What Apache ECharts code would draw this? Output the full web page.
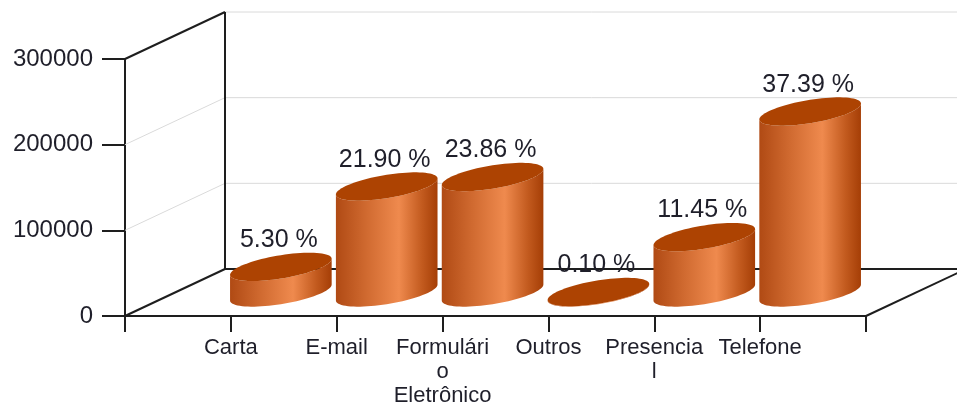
<!DOCTYPE html>
<html lang="pt">
<head>
  <meta charset="UTF-8" />
  <title>Atendimentos por canal</title>
  <script src="https://cdn.jsdelivr.net/npm/echarts@6/dist/echarts.min.js"></script>
  <style>
    body { margin: 0; background: #fff; }
    #chart { width: 957px; height: 405px; }
  </style>
</head>
<body>
  <div id="chart"></div>
  <script>
    // data
    const categories = ['Carta', 'E-mail', 'Formulário Eletrônico', 'Outros', 'Presencial', 'Telefone'];
    const tickLabels = ['Carta', 'E-mail', 'Formulári\no\nEletrônico', 'Outros', 'Presencia\nl', 'Telefone'];
    const counts = [29945, 123735, 134809, 565, 64692, 211254];
    const shares = [5.30, 21.90, 23.86, 0.10, 11.45, 37.39];
    const yTicks = [0, 100000, 200000, 300000];

    const DEPTH = [100, -47];   // oblique offset of the back wall
    const LINE = '#1e1e1e';
    const GRID = '#dadada';
    const TEXT = '#1f1f2a';

    const chart = echarts.init(document.getElementById('chart'));

    function seg(a, b, color, w) {
      return {
        type: 'line',
        shape: { x1: a[0], y1: a[1], x2: b[0], y2: b[1] },
        style: { stroke: color, lineWidth: w }
      };
    }
    const add = (p, f) => [p[0] + DEPTH[0] * f, p[1] + DEPTH[1] * f];

    function renderFrame(params, api) {
      const yMax = yTicks[yTicks.length - 1];
      const o0 = api.coord([0, 0]);
      const o1 = api.coord([categories.length + 1, 0]);
      const top = api.coord([0, yMax]);
      const kids = [];
      yTicks.forEach(v => {
        if (v === 0) return;
        const p = api.coord([0, v]);
        const b = add(p, 1);
        kids.push(seg(b, [o1[0] + DEPTH[0], b[1]], GRID, 1));
        if (v !== yMax) kids.push(seg(p, b, GRID, 1));
      });
      kids.push(seg(add(o0, 1), add(top, 1), LINE, 2));
      kids.push(seg(top, add(top, 1), LINE, 2));
      kids.push(seg(o0, add(o0, 1), LINE, 2));
      kids.push(seg(add(o0, 1), add(o1, 1), LINE, 2));
      kids.push(seg(o1, add(o1, 1), LINE, 2));
      return { type: 'group', children: kids };
    }

    function ellipsePts(cx, cy, rx, ry, sh, t0, t1, n) {
      const pts = [];
      for (let i = 0; i <= n; i++) {
        const t = t0 + (t1 - t0) * i / n;
        pts.push([cx + rx * Math.cos(t), cy - ry * Math.sin(t) - sh * Math.cos(t)]);
      }
      return pts;
    }

    function renderCylinder(params, api) {
      const x = api.value(0), v = api.value(1);
      const base = api.coord([x, 0]);
      const tip = api.coord([x, v]);
      const band = api.size([1, 0])[0];
      const rx = band * 0.48, ry = 11.7, sh = 8;
      const cx = base[0] + DEPTH[0] / 2;
      const by = base[1] + DEPTH[1] / 2;
      const ty = tip[1] + DEPTH[1] / 2;
      const front = ellipsePts(cx, by, rx, ry, sh, Math.PI, 2 * Math.PI, 40);
      const topFront = ellipsePts(cx, ty, rx, ry, sh, 2 * Math.PI, Math.PI, 40);
      const body = front.concat(topFront);
      const amp = Math.sqrt(ry * ry + sh * sh);
      return {
        type: 'group',
        children: [
          {
            type: 'polygon',
            shape: { points: body },
            style: {
              fill: new echarts.graphic.LinearGradient(0, 0, 1, 0, [
                { offset: 0, color: '#b04a14' },
                { offset: 0.3, color: '#d06a30' },
                { offset: 0.62, color: '#ef8a4e' },
                { offset: 0.85, color: '#c25a1e' },
                { offset: 1, color: '#a53e06' }
              ])
            }
          },
          {
            type: 'polygon',
            shape: { points: ellipsePts(cx, ty, rx, ry, sh, 0, 2 * Math.PI, 80) },
            style: { fill: '#ad4302' }
          },
          {
            type: 'text',
            z2: 10,
            style: {
              text: shares[params.dataIndex].toFixed(2) + ' %',
              x: cx - 2,
              y: ty - amp,
              align: 'center',
              verticalAlign: 'bottom',
              fontSize: 25,
              fontFamily: 'Liberation Sans, Arial, sans-serif',
              fill: TEXT
            }
          }
        ]
      };
    }

    const option = {
      animation: false,
      grid: { left: 125, right: 91, top: 59, bottom: 89, outerBoundsMode: 'none' },
      xAxis: {
        type: 'value',
        min: 0,
        max: categories.length + 1,
        interval: 1,
        splitLine: { show: false },
        axisLine: { show: true, lineStyle: { color: LINE, width: 2 } },
        axisTick: { show: true, length: 16, lineStyle: { color: LINE, width: 2 } },
        axisLabel: {
          margin: 20,
          fontSize: 22,
          lineHeight: 24,
          fontFamily: 'Liberation Sans, Arial, sans-serif',
          color: TEXT,
          formatter: v => tickLabels[v - 1] || ''
        }
      },
      yAxis: {
        type: 'value',
        min: 0,
        max: 300000,
        interval: 100000,
        splitLine: { show: false },
        axisLine: { show: true, lineStyle: { color: LINE, width: 2 } },
        axisTick: { show: true, length: 23, lineStyle: { color: LINE, width: 2 } },
        axisLabel: {
          margin: 32,
          fontSize: 24,
          fontFamily: 'Liberation Sans, Arial, sans-serif',
          color: TEXT,
          formatter: v => String(v)
        }
      },
      series: [
        {
          type: 'custom',
          z: 1,
          silent: true,
          renderItem: renderFrame,
          data: [[0, 0]]
        },
        {
          type: 'custom',
          z: 3,
          renderItem: renderCylinder,
          data: counts.map((c, i) => [i + 1, c, categories[i]])
        }
      ]
    };

    chart.setOption(option);
    window.addEventListener('resize', () => chart.resize());
  </script>
</body>
</html>
